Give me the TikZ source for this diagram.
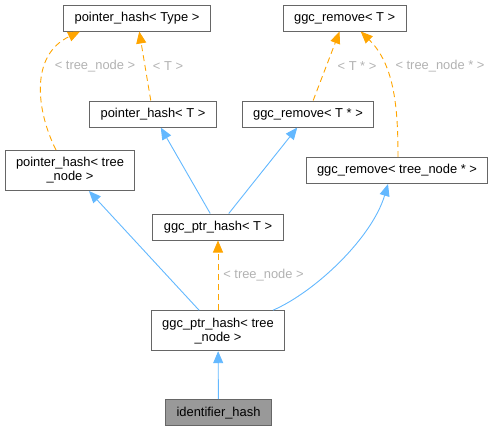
\documentclass[tikz,border=0pt]{standalone}
\usepackage{fontspec}
\setmainfont{Liberation Sans}
\usetikzlibrary{arrows.meta}

\definecolor{edgeblue}{HTML}{63B8FF}
\definecolor{edgeorange}{HTML}{FFA500}
\definecolor{boxline}{HTML}{666666}

\begin{document}
\begin{tikzpicture}[x=1pt, y=-1pt,
    font=\fontsize{12.9}{14}\selectfont,
    cls/.style={draw=boxline, line width=1pt, fill=white, inner xsep=11pt, inner ysep=0pt, minimum height=26pt, align=center},
    twoline/.style={minimum height=40pt},
    self/.style={cls, fill=black!40},
    inherit/.style={draw=edgeblue, line width=0.9pt, -{Triangle[length=12pt, width=10pt]}},
    tmpl/.style={draw=edgeorange, line width=0.9pt, dash pattern=on 6pt off 4pt, -{Triangle[length=12pt, width=10pt, fill=edgeorange]}},
    lbl/.style={text=black!30}]
      \useasboundingbox (0,0) rectangle (495,431);

      \node[cls] (ptype) at (137,18) {pointer\_hash< Type >};
      \node[cls] (gT) at (344.7,18) {ggc\_remove< T >};
      \node[cls] (pT) at (153,114) {pointer\_hash< T >};
      \node[cls] (gTs) at (308,114) {ggc\_remove< T * >};
      \node[cls, twoline] (ptn) at (70,170.5) {pointer\_hash< tree\\\_node >};
      \node[cls] (gtn) at (397,170.5) {ggc\_remove< tree\_node * >};
      \node[cls] (hT) at (218,227) {ggc\_ptr\_hash< T >};
      \node[cls, twoline] (htn) at (218,330.7) {ggc\_ptr\_hash< tree\\\_node >};
      \node[self] (ihash) at (218.5,412.7) {identifier\_hash};

      \draw[inherit] (ihash) -- (htn);
      \draw[inherit] (htn) -- (ptn);
      \draw[inherit] ([xshift=55pt]htn.north) .. controls (315,292) and (372,238) .. ([xshift=-9pt]gtn.south);
      \draw[tmpl] (htn) -- (hT);
      \draw[inherit] (hT) -- (pT);
      \draw[inherit] (hT) -- (gTs);
      \draw[tmpl] (pT) -- (ptype);
      \draw[tmpl] ([xshift=-14pt]ptn.north) .. controls (36,110) and (30,55) .. ([xshift=-57pt]ptype.south);
      \draw[tmpl] (gTs) -- (gT);
      \draw[tmpl] ([xshift=1pt]gtn.north) .. controls (398,110) and (395,65) .. ([xshift=16pt]gT.south);

      \node[lbl] (l1) at (95,66) {< tree\_node >};
      \node[lbl] (l2) at (168,66) {< T >};
      \node[lbl] (l3) at (357,66) {< T * >};
      \node[lbl] (l4) at (440,66) {< tree\_node * >};
      \node[lbl] (l5) at (263.5,275) {< tree\_node >};
    \end{tikzpicture}
\end{document}
